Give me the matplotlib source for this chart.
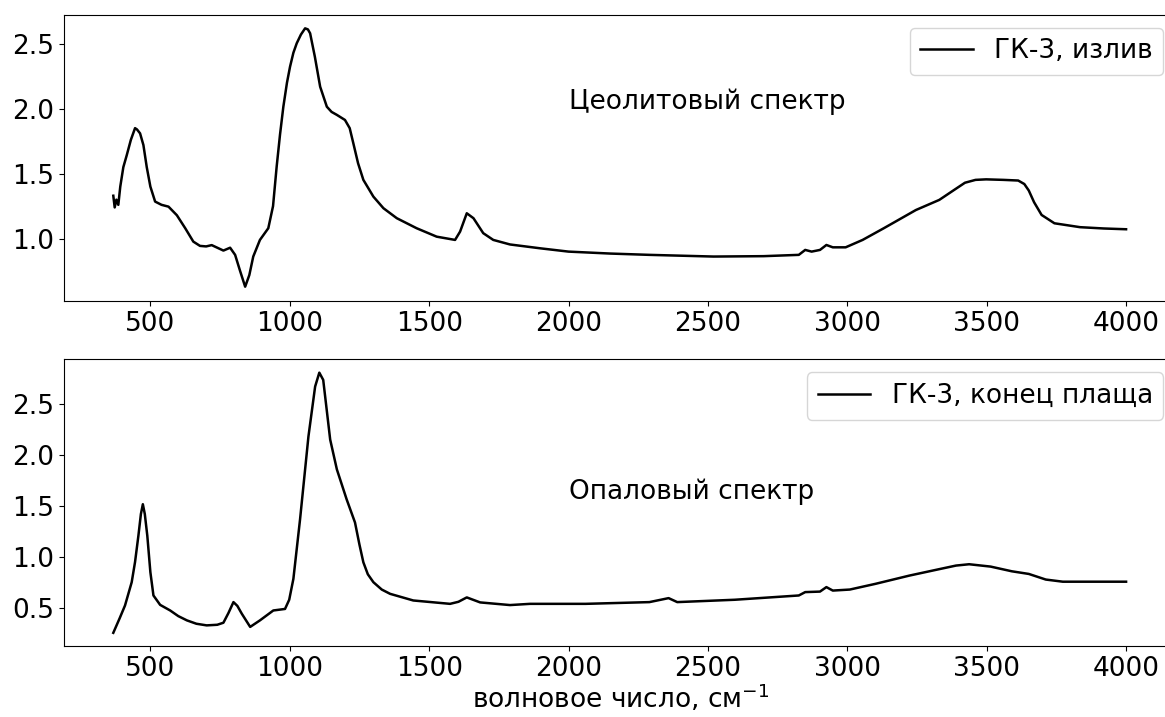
import matplotlib
matplotlib.use("Agg")
import matplotlib.pyplot as plt
from matplotlib.ticker import MultipleLocator, FormatStrFormatter

# ГК-3, излив (цеолитовый спектр)
wn_top = [367, 372, 378, 385, 392, 403, 415, 430, 445, 452, 463, 475, 487, 500, 517,
          540, 565, 595, 625, 654, 678, 700, 720, 740, 762, 786, 804, 822, 840,
          855, 869, 893, 923, 940, 953, 965, 977, 990, 1001, 1013, 1025, 1040, 1055,
          1065, 1073, 1090, 1109, 1133, 1150, 1169, 1198, 1215, 1228, 1245, 1264,
          1300, 1336, 1384, 1455, 1527, 1593, 1611, 1635, 1659, 1694, 1730, 1790,
          1900, 2000, 2150, 2290, 2520, 2700, 2826, 2849, 2872, 2902, 2925, 2948,
          2994, 3055, 3131, 3246, 3330, 3380, 3422, 3460, 3498, 3560, 3613, 3635,
          3651, 3670, 3697, 3743, 3835, 3920, 4000]
abs_top = [1.33, 1.24, 1.30, 1.26, 1.40, 1.55, 1.64, 1.76, 1.85, 1.84, 1.81, 1.72,
           1.55, 1.40, 1.285, 1.26, 1.246, 1.18, 1.08, 0.977, 0.944, 0.94, 0.95,
           0.93, 0.908, 0.93, 0.875, 0.75, 0.63, 0.72, 0.862, 0.99, 1.08, 1.25,
           1.554, 1.80, 2.015, 2.20, 2.323, 2.43, 2.503, 2.57, 2.618, 2.61, 2.58,
           2.40, 2.169, 2.015, 1.975, 1.952, 1.913, 1.85, 1.734, 1.58, 1.452,
           1.323, 1.234, 1.157, 1.08, 1.015, 0.99, 1.054, 1.195, 1.157, 1.042,
           0.99, 0.955, 0.925, 0.90, 0.885, 0.875, 0.862, 0.865, 0.875, 0.913,
           0.90, 0.913, 0.951, 0.933, 0.933, 0.99, 1.08, 1.22, 1.298, 1.37, 1.43,
           1.452, 1.456, 1.452, 1.447, 1.42, 1.37, 1.28, 1.182, 1.118, 1.088,
           1.078, 1.072]

# ГК-3, конец плаща (опаловый спектр)
wn_bot = [367, 390, 409, 433, 445, 457, 466, 473, 480, 489, 500, 511, 535, 571,
          600, 631, 665, 702, 740, 762, 780, 798, 812, 828, 858, 893, 941, 983,
          998, 1013, 1037, 1067, 1091, 1106, 1120, 1145, 1169, 1204, 1234, 1250,
          1264, 1280, 1300, 1330, 1360, 1443, 1575, 1605, 1635, 1683, 1790, 1862,
          2061, 2290, 2359, 2390, 2596, 2826, 2849, 2902, 2925, 2948, 3009, 3101,
          3223, 3330, 3390, 3437, 3514, 3590, 3651, 3712, 3773, 3880, 4000]
abs_bot = [0.256, 0.40, 0.524, 0.752, 0.95, 1.207, 1.42, 1.516, 1.42, 1.207, 0.85,
           0.622, 0.53, 0.475, 0.42, 0.378, 0.345, 0.329, 0.335, 0.355, 0.45,
           0.557, 0.52, 0.443, 0.314, 0.378, 0.475, 0.49, 0.58, 0.785, 1.37, 2.18,
           2.669, 2.805, 2.734, 2.149, 1.857, 1.564, 1.337, 1.12, 0.947, 0.83,
           0.752, 0.68, 0.638, 0.573, 0.54, 0.56, 0.603, 0.554, 0.528, 0.54, 0.54,
           0.557, 0.596, 0.557, 0.58, 0.622, 0.655, 0.66, 0.704, 0.67, 0.68, 0.736,
           0.817, 0.88, 0.915, 0.928, 0.905, 0.859, 0.833, 0.778, 0.757, 0.757,
           0.757]

fs = 19

fig = plt.figure(figsize=(11.65, 7.17), dpi=100)
ax1 = fig.add_axes([0.0549, 0.5802, 0.955, 0.3993])
ax2 = fig.add_axes([0.0549, 0.0986, 0.955, 0.4003])

ax1.plot(wn_top, abs_top, color="black", lw=1.8, label="ГК-3, излив")
ax1.text(2000, 2.0, "Цеолитовый спектр", fontsize=fs)
ax1.set_xlim(190, 4181)
ax1.set_ylim(0.52, 2.723)
ax1.legend(loc="upper right", fontsize=fs)

ax2.plot(wn_bot, abs_bot, color="black", lw=1.8, label="ГК-3, конец плаща")
ax2.text(2000, 1.57, "Опаловый спектр", fontsize=fs)
ax2.set_xlim(190, 4181)
ax2.set_ylim(0.124, 2.936)
ax2.legend(loc="upper right", fontsize=fs)
ax2.set_xlabel("волновое число, см$^{-1}$", fontsize=fs, labelpad=0)

for ax in (ax1, ax2):
    ax.tick_params(labelsize=fs)
    ax.yaxis.set_major_locator(MultipleLocator(0.5))
    ax.yaxis.set_major_formatter(FormatStrFormatter("%.1f"))
    ax.xaxis.set_major_locator(MultipleLocator(500))

fig.savefig("out.png", dpi=100)
